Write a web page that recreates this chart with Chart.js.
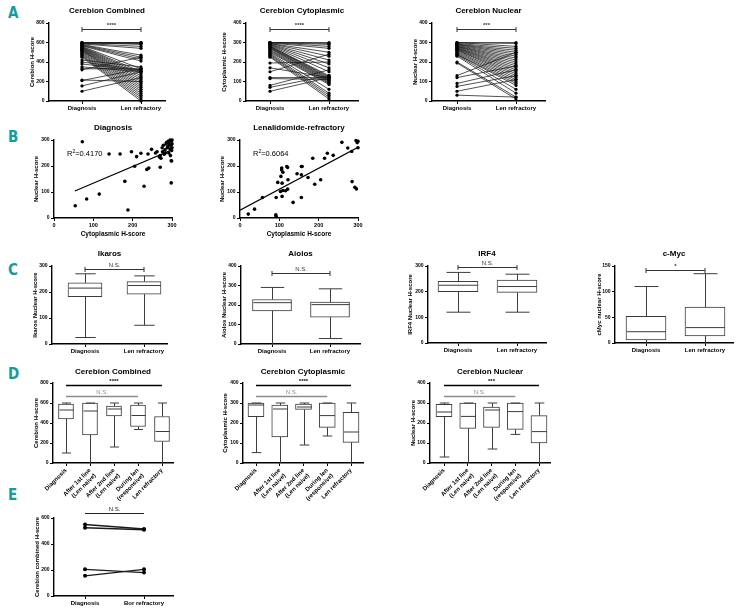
<!DOCTYPE html>
<html>
<head>
<meta charset="utf-8">
<script src="https://cdn.jsdelivr.net/npm/chart.js@4.4.1/dist/chart.umd.min.js"></script>
<style>
  body { margin: 0; background: #fff; width: 741px; height: 613px; position: relative; overflow: hidden; }
  .tag { position: absolute; left: 8px; color: #149c9c; font: bold 15px/15px "DejaVu Sans Condensed", "DejaVu Sans", sans-serif; }
</style>
</head>
<body>
<div class="tag" style="top:6px">A</div>
<div class="tag" style="top:130px">B</div>
<div class="tag" style="top:263px">C</div>
<div class="tag" style="top:367px">D</div>
<div class="tag" style="top:488px">E</div>
<script>
// ---------- data ----------
const pairLabels = ['Diagnosis', 'Len refractory'];

// A: paired H-scores, diagnosis vs len refractory (one entry per patient)
const combDiag = [600,600,600,595,590,590,585,580,575,570,565,560,555,550,545,540,535,530,525,520,515,510,500,490,480,470,460,450,420,400,380,350,330,320,215,210,155,100];
const combLen  = [600,595,580,600,590,560,540,470,450,430,410,330,300,280,260,240,220,200,180,160,140,120,100,80,60,40,20,0,350,320,310,300,330,450,200,330,300,240];
const cytoDiag = [300,300,300,300,298,295,295,292,290,288,285,282,280,278,275,272,270,265,260,255,250,245,240,235,230,225,195,170,150,120,115,80,70,50];
const cytoLen  = [300,295,290,280,270,250,230,210,190,170,150,130,125,120,115,110,105,100,95,90,85,60,40,30,20,10,200,120,240,120,110,160,130,120];
const nucDiag  = [300,300,298,295,292,290,288,285,282,280,278,275,272,270,268,265,262,260,255,250,245,240,238,235,230,200,195,130,120,90,75,50,30];
const nucLen   = [295,280,300,270,260,250,240,230,220,210,200,190,180,170,160,150,140,130,120,110,100,90,80,60,40,20,10,250,180,160,130,110,20];

// B: cytoplasmic vs nuclear H-score
const scDiagX = [72,140,168,197,210,221,239,248,258,262,270,272,275,278,280,282,285,286,288,290,290,292,293,295,295,296,297,298,299,300,300,300,298,283,276,268,54,83,115,180,188,205,229,236,241,270,298,299];
const scDiagY = [293,246,246,255,236,249,246,264,250,255,240,230,270,280,245,262,285,290,270,275,295,250,285,300,265,240,280,295,260,300,285,270,220,250,255,235,47,73,92,141,31,199,122,187,192,195,135,219];
const scLenX = [21,37,57,92,96,91,92,106,109,104,121,107,103,109,116,121,107,122,135,145,156,156,156,173,185,190,205,222,215,259,295,300,298,274,284,300,237,158,119,106,285,292,296];
const scLenY = [15,34,79,79,137,12,6,185,176,160,194,134,102,106,105,111,83,147,60,170,198,166,79,156,230,130,147,249,230,291,298,295,290,269,256,270,241,198,198,192,140,118,112];
const fitDiagX = [53, 300], fitDiagY = [104, 262];
const fitLenX = [0, 300], fitLenY = [30, 272];
const r2Diag = '0.4170', r2Len = '0.6064';

// C: box stats [min, q1, median, q3, max]
const ikaros = [[25,182,215,235,270],[72,192,225,240,262]];
const aiolos = [[0,170,212,228,290],[28,138,202,215,283]];
const irf4   = [[120,200,225,240,275],[120,197,220,245,268]];
const cmyc   = [[0,6,22,52,110],[0,14,30,70,135]];

// D
const stageLabels = ['Diagnosis', ['After 1st line', '(Len naive)'], ['After 2nd line', '(Len naive)'], ['During len', '(responsive)'], 'Len refractory'];
const dComb = [[100,440,530,590,600],[0,280,520,600,600],[160,470,540,570,600],[335,365,475,580,600],[0,215,315,465,600]];
const dCyto = [[52,232,290,300,300],[0,130,270,290,300],[90,268,280,295,300],[135,178,237,300,300],[0,103,155,253,300]];
const dNuc  = [[30,232,255,293,300],[0,173,233,300,300],[70,178,265,280,300],[143,168,257,300,300],[0,100,157,237,300]];

// E
const borLabels = ['Diagnosis', 'Bor refractory'];
const borDiag = [550, 525, 205, 155];
const borRef  = [515, 510, 180, 205];

// ---------- drawing ----------
const FONT = '"Liberation Sans", Arial, Helvetica, sans-serif';
Chart.defaults.font.family = FONT;
Chart.defaults.font.size = 6;
Chart.defaults.font.weight = 'bold';
Chart.defaults.color = '#000';
Chart.defaults.animation = false;

function pairSets(a, b) {
  return a.map((v, i) => ({
    data: [{x: 0, y: v}, {x: 1, y: b[i]}],
    borderColor: '#1a1a1a', borderWidth: 0.75,
    pointRadius: 1.6, pointBackgroundColor: '#000', pointBorderWidth: 0, clip: false
  }));
}

function boxSets(stats, w) {
  return [{
    type: 'bar',
    data: stats.map((s, i) => ({x: i, y: [s[1], s[3]]})),
    backgroundColor: '#fff', borderColor: '#3c3c3c', borderWidth: 1, borderSkipped: false,
    barThickness: w
  }];
}

function whiskers(stats, w) {
  return {
    id: 'whiskers',
    afterDatasetsDraw(chart) {
      const {ctx, scales: {x, y}} = chart;
      ctx.save();
      ctx.strokeStyle = '#3c3c3c';
      ctx.lineWidth = 1;
      stats.forEach((s, i) => {
        const px = Math.round(x.getPixelForValue(i)) + 0.5;
        const cw = w * 0.3, hw = w / 2 - 0.5;
        const [mn, q1, md, q3, mx] = s.map(v => y.getPixelForValue(v));
        ctx.beginPath();
        ctx.moveTo(px, q3); ctx.lineTo(px, mx);
        ctx.moveTo(px - cw, mx); ctx.lineTo(px + cw, mx);
        ctx.moveTo(px, q1); ctx.lineTo(px, mn);
        if (s[0] > 0) { ctx.moveTo(px - cw, mn); ctx.lineTo(px + cw, mn); }
        ctx.moveTo(px - hw, md); ctx.lineTo(px + hw, md);
        ctx.stroke();
      });
      ctx.restore();
    }
  };
}

function sig(items) {
  return {
    id: 'sig',
    afterDraw(chart) {
      const {ctx, scales: {x, y}} = chart;
      ctx.save();
      items.forEach(it => {
        const x0 = x.getPixelForValue(it.from), x1 = x.getPixelForValue(it.to);
        const py = Math.round(y.getPixelForValue(it.at)) + 0.5;
        ctx.strokeStyle = it.color; ctx.lineWidth = it.lw || 1;
        ctx.beginPath();
        ctx.moveTo(x0, py); ctx.lineTo(x1, py);
        if (it.caps) {
          ctx.moveTo(x0, py - 2.5); ctx.lineTo(x0, py + 2.5);
          ctx.moveTo(x1, py - 2.5); ctx.lineTo(x1, py + 2.5);
        }
        ctx.stroke();
        ctx.fillStyle = it.color;
        ctx.font = (it.text.indexOf('*') >= 0 ? 'bold 6px ' : '6px ') + FONT;
        ctx.textAlign = 'center';
        ctx.textBaseline = 'bottom';
        ctx.fillText(it.text, (x0 + x1) / 2, py - 1);
      });
      ctx.restore();
    }
  };
}

function r2note(vx, vy, val) {
  return {
    id: 'r2',
    afterDraw(chart) {
      const {ctx, scales: {x, y}} = chart;
      const px = x.getPixelForValue(vx), py = y.getPixelForValue(vy);
      ctx.save();
      ctx.fillStyle = '#000';
      ctx.textBaseline = 'alphabetic';
      ctx.font = '7.5px ' + FONT;
      ctx.fillText('R', px, py);
      let w = ctx.measureText('R').width;
      ctx.font = '5px ' + FONT;
      ctx.fillText('2', px + w, py - 3);
      w += ctx.measureText('2').width;
      ctx.font = '7.5px ' + FONT;
      ctx.fillText('=' + val, px + w, py);
      ctx.restore();
    }
  };
}

function panel(o) {
  const L = 52, R = 16, T = 22;
  const {l, r, t, b} = o.box;
  const left = l - L, top = t - T;
  const W = r - l + L + R, H = b - t + T + o.xh;
  const cv = document.createElement('canvas');
  cv.width = W; cv.height = H;
  cv.style.cssText = `position:absolute;left:${left}px;top:${top}px;width:${W}px;height:${H}px`;
  document.body.appendChild(cv);

  let xmin, xmax;
  if (o.xRange) { [xmin, xmax] = o.xRange; }
  else { xmin = -(o.p0 - l) / o.k; xmax = xmin + (r - l) / o.k; }
  const tp = o.titleY ? o.titleY - top - 4.8 : 0;

  const grid = {display: true, drawOnChartArea: false, drawTicks: true, tickLength: 3, color: '#000', lineWidth: 1, offset: false};
  const border = {display: true, color: '#000', width: 1.4};

  new Chart(cv, {
    type: o.type || 'line',
    data: {datasets: o.datasets},
    options: {
      responsive: false,
      animation: false,
      layout: {padding: {left: 0, right: R, top: o.title ? 0 : T, bottom: 0}},
      plugins: {
        legend: {display: false},
        tooltip: {enabled: false},
        title: o.title ? {
          display: true, text: o.title, color: '#000', fullSize: false,
          font: {size: 8, weight: 'bold', lineHeight: 1.2},
          padding: {top: tp, bottom: T - tp - 9.6}
        } : {display: false}
      },
      scales: {
        x: {
          type: 'linear', min: xmin, max: xmax, offset: false,
          grid, border,
          afterBuildTicks: s => { s.ticks = o.xTicks.map(v => ({value: v})); },
          ticks: {
            autoSkip: false, padding: 1, color: '#000',
            minRotation: o.rot || 0, maxRotation: o.rot || 0,
            font: {size: o.xRange ? 5.5 : 6, weight: 'bold'},
            callback: v => o.xLabels ? o.xLabels[o.xTicks.indexOf(v)] : String(v)
          },
          title: o.xTitle ? {
            display: true, text: o.xTitle, color: '#000',
            font: {size: 6.5, weight: 'bold'},
            padding: {top: 0, bottom: (b + o.xh) - o.xTitleY - 3.9}
          } : {display: false},
          afterFit: s => { s.height = o.xh; }
        },
        y: {
          type: 'linear', min: 0, max: o.yTicks[o.yTicks.length - 1],
          grid, border,
          afterBuildTicks: s => { s.ticks = o.yTicks.map(v => ({value: v})); },
          ticks: {padding: 1.5, color: '#000', font: {size: 5, weight: 'bold'}},
          title: {
            display: true, text: o.yTitle, color: '#000',
            font: {size: 6, weight: 'bold'},
            padding: {top: o.yTitleX - left - 3.6, bottom: 0}
          },
          afterFit: s => { s.width = L; }
        }
      }
    },
    plugins: o.plugins || []
  });
}

const blackCap = (at, text) => ({from: 0, to: 1, at, text, color: '#333', caps: true, lw: 1});

// ----- A -----
panel({box: {l: 49, r: 165, t: 23, b: 101}, p0: 82, k: 59, title: 'Cerebion Combined', titleY: 11,
  yTicks: [0, 200, 400, 600, 800], yTitle: 'Cerebion H-score', yTitleX: 32,
  xTicks: [0, 1], xLabels: pairLabels, xh: 14,
  datasets: pairSets(combDiag, combLen), plugins: [sig([blackCap(740, '****')])]});
panel({box: {l: 246, r: 358, t: 23, b: 101}, p0: 270, k: 59, title: 'Cerebion Cytoplasmic', titleY: 11,
  yTicks: [0, 100, 200, 300, 400], yTitle: 'Cytoplasmic H-score', yTitleX: 224,
  xTicks: [0, 1], xLabels: pairLabels, xh: 14,
  datasets: pairSets(cytoDiag, cytoLen), plugins: [sig([blackCap(370, '****')])]});
panel({box: {l: 432, r: 545, t: 23, b: 101}, p0: 457, k: 59, title: 'Cerebion Nuclear', titleY: 11,
  yTicks: [0, 100, 200, 300, 400], yTitle: 'Nuclear H-score', yTitleX: 415,
  xTicks: [0, 1], xLabels: pairLabels, xh: 14,
  datasets: pairSets(nucDiag, nucLen), plugins: [sig([blackCap(370, '***')])]});

// ----- B -----
function scatterSets(xs, ys, fx, fy) {
  return [
    {type: 'scatter', data: xs.map((v, i) => ({x: v, y: ys[i]})), pointRadius: 1.8,
     pointBackgroundColor: '#000', pointBorderWidth: 0, clip: false},
    {type: 'line', data: fx.map((v, i) => ({x: v, y: fy[i]})), borderColor: '#000', borderWidth: 1.1, pointRadius: 0}
  ];
}
panel({box: {l: 54, r: 172, t: 140, b: 218}, xRange: [0, 300], title: 'Diagnosis', titleY: 128,
  yTicks: [0, 100, 200, 300], yTitle: 'Nuclear H-score', yTitleX: 36,
  xTicks: [0, 100, 200, 300], xh: 21, xTitle: 'Cytoplasmic H-score', xTitleY: 234,
  datasets: scatterSets(scDiagX, scDiagY, fitDiagX, fitDiagY), plugins: [r2note(33, 240, r2Diag)]});
panel({box: {l: 240, r: 358, t: 140, b: 218}, xRange: [0, 300], title: 'Lenalidomide-refractory', titleY: 128,
  yTicks: [0, 100, 200, 300], yTitle: 'Nuclear H-score', yTitleX: 222,
  xTicks: [0, 100, 200, 300], xh: 21, xTitle: 'Cytoplasmic H-score', xTitleY: 234,
  datasets: scatterSets(scLenX, scLenY, fitLenX, fitLenY), plugins: [r2note(33, 240, r2Len)]});

// ----- C -----
function boxPanel(o, stats, w, sigItems) {
  o.type = 'bar';
  o.datasets = boxSets(stats, w);
  o.plugins = [whiskers(stats, w), sig(sigItems)];
  panel(o);
}
boxPanel({box: {l: 52, r: 167, t: 266, b: 344}, p0: 85, k: 59, title: 'Ikaros', titleY: 254,
  yTicks: [0, 100, 200, 300], yTitle: 'Ikaros Nuclear H-score', yTitleX: 35,
  xTicks: [0, 1], xLabels: pairLabels, xh: 14}, ikaros, 34, [blackCap(288, 'N.S.')]);
boxPanel({box: {l: 241, r: 360, t: 266, b: 344}, p0: 272, k: 58, title: 'Aiolos', titleY: 254,
  yTicks: [0, 100, 200, 300, 400], yTitle: 'Aiolos Nuclear H-score', yTitleX: 224,
  xTicks: [0, 1], xLabels: pairLabels, xh: 14}, aiolos, 39, [blackCap(364, 'N.S.')]);
boxPanel({box: {l: 428, r: 546, t: 266, b: 343}, p0: 458, k: 59, title: 'IRF4', titleY: 254,
  yTicks: [0, 100, 200, 300], yTitle: 'IRF4 Nuclear H-score', yTitleX: 410,
  xTicks: [0, 1], xLabels: pairLabels, xh: 14}, irf4, 40, [blackCap(295, 'N.S.')]);
boxPanel({box: {l: 615, r: 733, t: 266, b: 343}, p0: 646, k: 59, title: 'c-Myc', titleY: 254,
  yTicks: [0, 50, 100, 150], yTitle: 'cMyc nuclear H-score', yTitleX: 599,
  xTicks: [0, 1], xLabels: pairLabels, xh: 14}, cmyc, 40, [blackCap(142, '*')]);

// ----- D -----
const dSig = (hi, lo, stars) => [
  {from: 0, to: 4, at: hi, text: stars, color: '#000', lw: 1.3},
  {from: 0, to: 3, at: lo, text: 'N.S.', color: '#8c8c8c', lw: 1.3}
];
boxPanel({box: {l: 53, r: 173, t: 383, b: 463}, p0: 66, k: 24, title: 'Cerebion Combined', titleY: 372,
  yTicks: [0, 200, 400, 600, 800], yTitle: 'Cerebion H-score', yTitleX: 36,
  xTicks: [0, 1, 2, 3, 4], xLabels: stageLabels, rot: 45, xh: 52}, dComb, 15, dSig(780, 670, '****'));
boxPanel({box: {l: 243, r: 363, t: 383, b: 463}, p0: 256, k: 23.75, title: 'Cerebion Cytoplasmic', titleY: 372,
  yTicks: [0, 100, 200, 300, 400], yTitle: 'Cytoplasmic H-score', yTitleX: 225,
  xTicks: [0, 1, 2, 3, 4], xLabels: stageLabels, rot: 45, xh: 52}, dCyto, 16, dSig(390, 335, '****'));
boxPanel({box: {l: 430, r: 550, t: 383, b: 463}, p0: 444, k: 23.75, title: 'Cerebion Nuclear', titleY: 372,
  yTicks: [0, 100, 200, 300, 400], yTitle: 'Nuclear H-score', yTitleX: 413,
  xTicks: [0, 1, 2, 3, 4], xLabels: stageLabels, rot: 45, xh: 52}, dNuc, 16, dSig(390, 335, '***'));

// ----- E -----
panel({box: {l: 54, r: 173, t: 518, b: 596}, p0: 85, k: 59,
  yTicks: [0, 200, 400, 600], yTitle: 'Cerebion combined H-score', yTitleX: 37,
  xTicks: [0, 1], xLabels: borLabels, xh: 14,
  datasets: pairSets(borDiag, borRef).map(d => Object.assign(d, {borderWidth: 1.4, pointRadius: 2})),
  plugins: [sig([{from: 0, to: 1, at: 638, text: 'N.S.', color: '#222', lw: 1}])]});
</script>
</body>
</html>
